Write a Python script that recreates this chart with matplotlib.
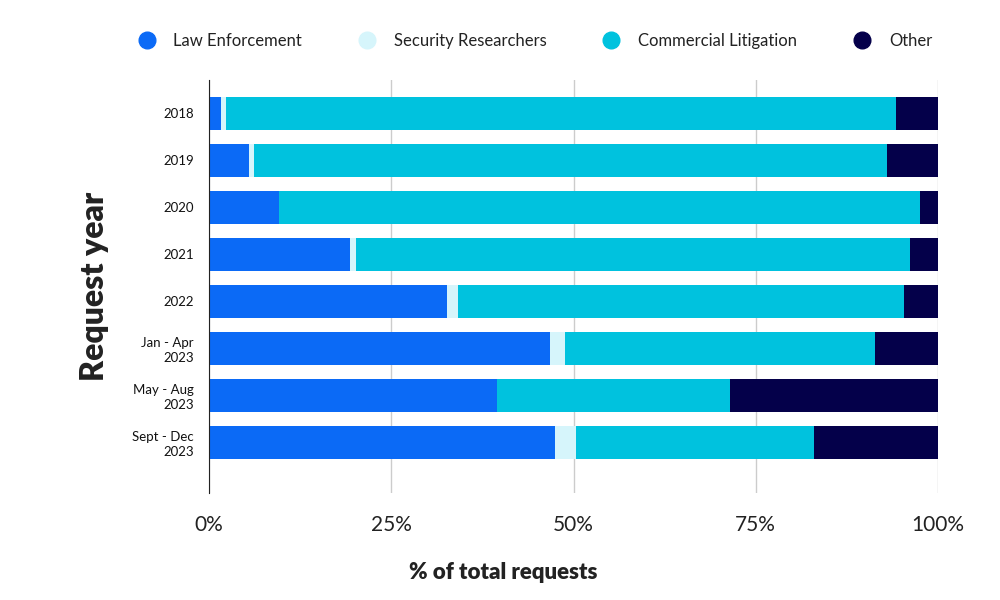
import matplotlib
matplotlib.use("Agg")
import matplotlib.pyplot as plt
from matplotlib.lines import Line2D

periods = ["2018", "2019", "2020", "2021", "2022",
           "Jan - Apr\n2023", "May - Aug\n2023", "Sept - Dec\n2023"]
law_enforcement = [1.7, 5.5, 9.6, 19.4, 32.6, 46.8, 39.5, 47.4]
security_researchers = [0.6, 0.7, 0.0, 0.7, 1.5, 2.0, 0.0, 2.9]
commercial_litigation = [92.0, 86.8, 87.9, 76.1, 61.2, 42.5, 32.0, 32.7]
other = [5.7, 7.0, 2.5, 3.8, 4.7, 8.7, 28.5, 17.0]

series = ["Law Enforcement", "Security Researchers", "Commercial Litigation", "Other"]
colors = ["#0b6af6", "#d6f5fb", "#00c2de", "#04004a"]

plt.rcParams['font.family'] = ['Lato', 'DejaVu Sans']

fig = plt.figure(figsize=(10, 6), dpi=100)
ax = fig.add_axes([0.209, 0.178, 0.729, 0.688])

ypos = list(range(len(periods)))
left = [0.0] * len(periods)
for vals, col in zip([law_enforcement, security_researchers, commercial_litigation, other], colors):
    ax.barh(ypos, vals, left=left, height=0.7, color=col, zorder=3)
    left = [l + v for l, v in zip(left, vals)]

ax.set_xlim(0, 100)
ax.set_ylim(len(periods) - 1 + 1.085, -0.70)
ax.set_xticks([0, 25, 50, 75, 100])
ax.set_xticklabels(["0%", "25%", "50%", "75%", "100%"], fontsize=15, color="#222222")
ax.set_yticks(ypos)
ax.set_yticklabels(periods, fontsize=9.5, color="#111111", linespacing=1.25)
ax.tick_params(axis='both', length=0)
ax.tick_params(axis='x', pad=16)
ax.tick_params(axis='y', pad=11)

ax.grid(axis='x', color="#cccccc", linewidth=1, zorder=0)
for s in ["top", "right", "bottom"]:
    ax.spines[s].set_visible(False)
ax.spines["left"].set_color("#222222")
ax.spines["left"].set_zorder(4)

ax.set_xlabel("% of total requests", fontsize=16, fontweight='heavy', color="#222222")
ax.xaxis.set_label_coords((503 - 209) / 729, -0.166)
ax.set_ylabel("Request year", fontsize=23, fontweight='heavy', color="#222222")
ax.yaxis.set_label_coords(-0.137, 0.5)

handles = [Line2D([], [], marker='o', linestyle='none', markersize=12,
                  markerfacecolor=c, markeredgecolor=c) for c in colors]
fig.legend(handles, series, loc='center', bbox_to_anchor=(0.531, 0.932), ncol=4,
           frameon=False, fontsize=12, handletextpad=0.6, columnspacing=2.9,
           labelcolor="#222222")

fig.savefig("out.png", dpi=100, facecolor="white")
